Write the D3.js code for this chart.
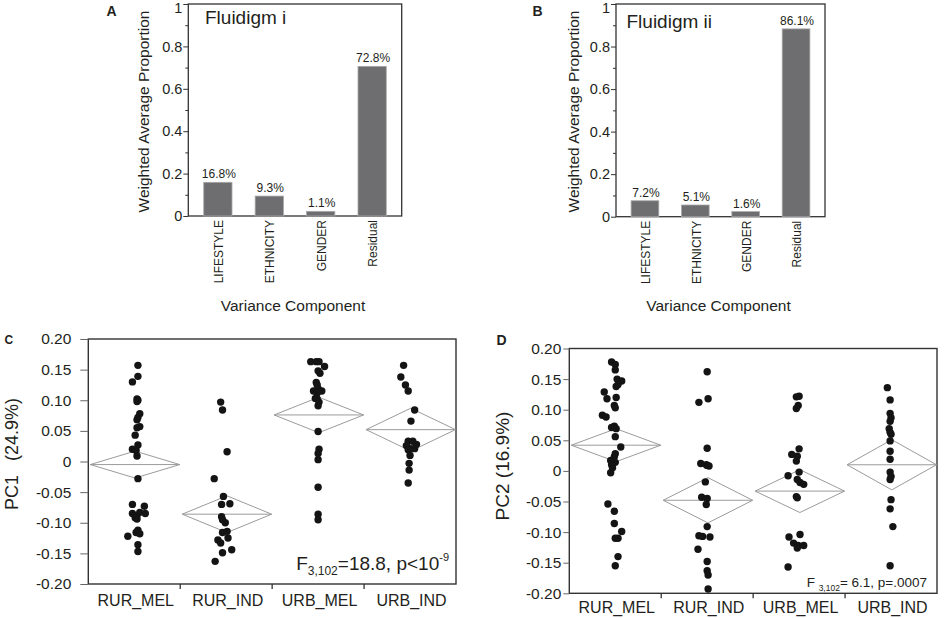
<!DOCTYPE html>
<html>
<head>
<meta charset="utf-8">
<script src="https://cdn.jsdelivr.net/npm/d3@7"></script>
<style>
  body { margin: 0; background: #fff; }
  text { font-family: "Liberation Sans", Arial, Helvetica, sans-serif; fill: #231f20; }
</style>
</head>
<body>
<svg id="fig" width="944" height="618"></svg>
<script>
// ---- data ----
var components = ["LIFESTYLE", "ETHNICITY", "GENDER", "Residual"];
var propFluidigmI = [0.159, 0.094, 0.022, 0.706];
var labelFluidigmI = ["16.8%", "9.3%", "1.1%", "72.8%"];
var propFluidigmII = [0.075, 0.055, 0.024, 0.883];
var labelFluidigmII = ["7.2%", "5.1%", "1.6%", "86.1%"];
var propTicks = [0, 0.2, 0.4, 0.6, 0.8, 1];
var propMinorTicks = [0.1, 0.3, 0.5, 0.7, 0.9];

var groups = ["RUR_MEL", "RUR_IND", "URB_MEL", "URB_IND"];
var pcTicks = [0.20, 0.15, 0.10, 0.05, 0, -0.05, -0.10, -0.15, -0.20];

// [score, jitter as fraction of group width]
var pc1RurMel = [[0.157,0.04],[0.139,0.04],[0.130,-0.02],[0.102,0.03],[0.100,0.04],[0.098,0.03],[0.078,0.06],[0.072,0.04],[0.068,0.03],[0.057,0.06],[0.055,0.03],[0.043,0.01],[0.027,0.04],[0.020,-0.02],[0.018,0.02],[0.009,0.03],[-0.028,0.04],[-0.070,-0.02],[-0.073,0.11],[-0.085,-0.02],[-0.088,0.03],[-0.083,0.06],[-0.085,0.12],[-0.092,0.01],[-0.094,0.03],[-0.112,0.04],[-0.116,0.02],[-0.118,0.06],[-0.122,-0.07],[-0.136,0.04],[-0.147,0.04]];
var pc1RurInd = [[0.097,-0.06],[0.084,-0.04],[0.016,0.01],[-0.028,-0.13],[-0.057,-0.03],[-0.070,-0.05],[-0.069,0.04],[-0.090,-0.05],[-0.095,-0.04],[-0.100,-0.01],[-0.114,0.01],[-0.116,-0.04],[-0.125,0.02],[-0.128,-0.09],[-0.133,-0.06],[-0.144,0.06],[-0.149,-0.04],[-0.163,-0.12]];
var pc1UrbMel = [[0.163,-0.08],[0.163,-0.02],[0.163,0.01],[0.155,0.07],[0.148,0.00],[0.144,0.02],[0.129,-0.02],[0.125,-0.01],[0.119,0.00],[0.115,0.04],[0.115,-0.05],[0.112,-0.01],[0.103,-0.03],[0.102,-0.01],[0.097,0.01],[0.091,0.00],[0.049,0.00],[0.020,0.01],[0.013,0.00],[0.003,0.00],[-0.042,0.00],[-0.086,0.00],[-0.095,0.00]];
var pc1UrbInd = [[0.157,-0.07],[0.138,-0.10],[0.125,-0.05],[0.115,-0.02],[0.084,0.05],[0.066,0.01],[0.033,-0.02],[0.033,0.03],[0.028,0.07],[0.026,-0.04],[0.021,0.01],[0.021,0.05],[0.019,-0.02],[0.010,0.00],[-0.003,-0.01],[-0.014,-0.01],[-0.035,-0.02]];
var pc1Means = [-0.005, -0.086, 0.076, 0.052];
var pc1Half = [0.022, 0.030, 0.029, 0.035];

var pc2RurMel = [[0.178,-0.04],[0.174,0.00],[0.165,0.00],[0.150,0.02],[0.147,0.07],[0.141,0.03],[0.138,0.01],[0.129,-0.12],[0.118,-0.09],[0.120,0.01],[0.107,-0.01],[0.103,0.00],[0.091,-0.14],[0.088,-0.10],[0.073,-0.01],[0.069,0.01],[0.071,-0.04],[0.056,0.00],[0.039,0.06],[0.028,0.00],[0.023,-0.01],[0.017,-0.05],[0.014,0.00],[0.010,-0.04],[0.005,-0.03],[-0.003,-0.05],[-0.054,-0.08],[-0.066,-0.01],[-0.086,-0.01],[-0.099,0.07],[-0.110,0.00],[-0.110,0.03],[-0.140,0.03],[-0.155,0.00]];
var pc2RurInd = [[0.162,0.00],[0.118,0.01],[0.112,-0.09],[0.037,0.00],[0.012,-0.07],[0.010,-0.01],[0.009,0.00],[0.008,0.02],[-0.018,-0.02],[-0.043,-0.06],[-0.045,0.00],[-0.055,-0.01],[-0.091,0.00],[-0.106,-0.09],[-0.107,-0.05],[-0.108,0.03],[-0.128,-0.10],[-0.148,0.00],[-0.163,0.00],[-0.170,0.01],[-0.193,0.01]];
var pc2UrbMel = [[0.121,-0.03],[0.122,0.00],[0.107,-0.01],[0.102,-0.03],[0.036,0.00],[0.027,-0.08],[0.024,-0.02],[0.016,-0.03],[-0.008,-0.12],[-0.002,0.00],[-0.014,-0.02],[-0.019,0.01],[-0.022,0.05],[-0.042,-0.03],[-0.044,-0.02],[-0.108,-0.11],[-0.104,0.01],[-0.118,-0.06],[-0.122,-0.01],[-0.122,0.05],[-0.126,-0.02],[-0.157,-0.12]];
var pc2UrbInd = [[0.136,-0.04],[0.116,-0.01],[0.094,-0.01],[0.087,0.00],[0.081,-0.01],[0.069,-0.02],[0.063,-0.01],[0.060,0.00],[0.049,-0.01],[0.032,-0.01],[0.019,-0.01],[-0.002,-0.01],[-0.009,0.00],[-0.014,-0.01],[-0.047,0.00],[-0.062,-0.01],[-0.091,0.02],[-0.155,-0.01]];
var pc2Means = [0.042, -0.048, -0.033, 0.010];
var pc2Half = [0.027, 0.037, 0.035, 0.041];

var svg = d3.select("#fig");
var axisColor = "#333";

// ---- bar panels (A, B) ----
function barPanel(o) {
    var g = svg.append("g");
    var x = d3.scaleBand().domain(components).range([o.x0, o.x1])
        .paddingInner(0.45).paddingOuter(0.3);
    var y = d3.scaleLinear().domain([0, 1]).range([o.y0, o.y1]);

    g.append("rect")
        .attr("x", o.x0).attr("y", o.y1)
        .attr("width", o.x1 - o.x0).attr("height", o.y0 - o.y1)
        .attr("fill", "none").attr("stroke", axisColor).attr("stroke-width", 1.3);

    g.selectAll(".bar").data(o.values).enter().append("rect")
        .attr("x", function(d, i) { return x(components[i]); })
        .attr("y", function(d) { return y(d); })
        .attr("width", x.bandwidth())
        .attr("height", function(d) { return o.y0 - y(d); })
        .attr("fill", "#6e6e70").attr("stroke", "#a9a9ab").attr("stroke-width", 0.8);

    g.selectAll(".lab").data(o.labels).enter().append("text")
        .attr("x", function(d, i) { return x(components[i]) + x.bandwidth() / 2 + 1; })
        .attr("y", function(d, i) { return y(o.values[i]) - 4; })
        .attr("text-anchor", "middle").style("font-size", "12px")
        .text(function(d) { return d; });

    // minor ticks first, then labelled ones
    g.append("g").attr("transform", "translate(" + o.x0 + ",0)")
        .call(d3.axisLeft(y).tickValues(propMinorTicks).tickSize(3).tickFormat(""))
        .call(function(a) { a.select(".domain").remove(); a.selectAll("line").attr("stroke", axisColor); });
    g.append("g").attr("transform", "translate(" + o.x0 + ",0)")
        .call(d3.axisLeft(y).tickValues(propTicks).tickSize(5).tickPadding(1)
            .tickFormat(function(d) { return d === 0 || d === 1 ? String(d) : d.toFixed(1); }))
        .call(function(a) {
            a.select(".domain").remove();
            a.selectAll("line").attr("stroke", axisColor);
            a.selectAll("text").style("font-size", "14.5px").attr("fill", "#231f20")
                .style("font-family", "'Liberation Sans', Arial, sans-serif")
                .filter(function(d) { return d === 1; }).attr("dy", "0.6em");
        });

    g.selectAll(".xl").data(components).enter().append("text")
        .attr("transform", function(d) {
            return "translate(" + (x(d) + x.bandwidth() / 2 + 1) + "," + (o.y0 + 4) + ") rotate(-90)";
        })
        .attr("text-anchor", "end").attr("dy", "0.35em").style("font-size", "12px")
        .text(function(d) { return d; });

    g.append("text")
        .attr("transform", "translate(" + o.yLabelX + "," + 111.5 + ") rotate(-90)")
        .attr("text-anchor", "middle").style("font-size", "15.5px")
        .text("Weighted Average Proportion");

    g.append("text").attr("x", (o.x0 + o.x1) / 2 - 2).attr("y", 311)
        .attr("text-anchor", "middle").style("font-size", "15.5px")
        .text("Variance Component");

    g.append("text").attr("x", o.titleX).attr("y", o.titleY)
        .style("font-size", "19px").text(o.title);

    g.append("text").attr("x", o.letterX).attr("y", 15.5)
        .style("font-size", "14px").style("font-weight", "bold").text(o.letter);
}

barPanel({ x0: 188.3, x1: 401.7, y0: 216, y1: 4, values: propFluidigmI, labels: labelFluidigmI,
    yLabelX: 149, title: "Fluidigm i", titleX: 205, titleY: 24, letter: "A", letterX: 106.5 });
barPanel({ x0: 616, x1: 825, y0: 216.7, y1: 4, values: propFluidigmII, labels: labelFluidigmII,
    yLabelX: 578.5, title: "Fluidigm ii", titleX: 626.5, titleY: 28, letter: "B", letterX: 532.5 });

// ---- means-diamond scatter panels (C, D) ----
function scatterPanel(o) {
    var g = svg.append("g");
    var x = d3.scaleBand().domain(groups).range([o.x0, o.x1]);
    var y = d3.scaleLinear().domain([-0.2, 0.2]).range([o.y0, o.y1]);
    var w = x.bandwidth();

    g.append("rect")
        .attr("x", o.x0).attr("y", o.y1)
        .attr("width", o.x1 - o.x0).attr("height", o.y0 - o.y1)
        .attr("fill", "none").attr("stroke", axisColor).attr("stroke-width", 1.4);

    g.append("g").attr("transform", "translate(" + o.x0 + ",0)")
        .call(d3.axisLeft(y).tickValues(pcTicks).tickSize(o.tickSize).tickPadding(o.tickPad)
            .tickFormat(function(d) { return d === 0 ? "0" : d.toFixed(2); }))
        .call(function(a) {
            a.select(".domain").remove();
            a.selectAll("line").attr("stroke", "#666");
            a.selectAll("text").style("font-size", "15.5px").attr("fill", "#231f20")
                .style("font-family", "'Liberation Sans', Arial, sans-serif");
        });

    // separators between groups on the bottom axis
    g.selectAll(".sep").data(groups.slice(1)).enter().append("line")
        .attr("x1", function(d) { return x(d); }).attr("x2", function(d) { return x(d); })
        .attr("y1", o.y0).attr("y2", o.y0 + 5)
        .attr("stroke", axisColor).attr("stroke-width", 1.3);

    g.selectAll(".xl").data(groups).enter().append("text")
        .attr("x", function(d) { return x(d) + w / 2 + 1.5; })
        .attr("y", o.xLabelY)
        .attr("text-anchor", "middle").style("font-size", "16px")
        .text(function(d) { return d; });

    // means diamonds
    groups.forEach(function(gr, i) {
        var l = x(gr) + 2, r = x(gr) + w - 0.5, c = (l + r) / 2;
        var m = o.means[i], h = o.half[i];
        g.append("path")
            .attr("d", "M" + l + "," + y(m) + "L" + c + "," + y(m + h) + "L" + r + "," + y(m) +
                "L" + c + "," + y(m - h) + "Z")
            .attr("fill", "none").attr("stroke", "#9b9b9b").attr("stroke-width", 1);
        g.append("line").attr("x1", l).attr("x2", r).attr("y1", y(m)).attr("y2", y(m))
            .attr("stroke", "#9b9b9b").attr("stroke-width", 1);
    });

    o.series.forEach(function(pts, i) {
        var cx = x(groups[i]) + w / 2;
        g.selectAll(null).data(pts).enter().append("circle")
            .attr("cx", function(d) { return cx + d[1] * w; })
            .attr("cy", function(d) { return y(d[0]); })
            .attr("r", 3.7).attr("fill", "#141414");
    });

    g.append("text").attr("x", o.letterX).attr("y", o.letterY)
        .style("font-size", o.letterSize).style("font-weight", "bold").text(o.letter);
}

scatterPanel({ x0: 88.3, x1: 456, y0: 584, y1: 339, tickSize: 8, tickPad: 9, xLabelY: 606,
    series: [pc1RurMel, pc1RurInd, pc1UrbMel, pc1UrbInd], means: pc1Means, half: pc1Half,
    letter: "C", letterX: 4.5, letterY: 343.5, letterSize: "12px" });
scatterPanel({ x0: 569.3, x1: 937, y0: 593.3, y1: 348.5, tickSize: 6, tickPad: 2, xLabelY: 613,
    series: [pc2RurMel, pc2RurInd, pc2UrbMel, pc2UrbInd], means: pc2Means, half: pc2Half,
    letter: "D", letterX: 496.5, letterY: 345, letterSize: "14px" });

// axis titles for the PC panels
var pc1Label = svg.append("text")
    .attr("transform", "translate(17.5,454) rotate(-90)")
    .attr("text-anchor", "middle").style("font-size", "18px");
pc1Label.append("tspan").text("PC1");
pc1Label.append("tspan").attr("dx", 14).text("(24.9%)");

svg.append("text")
    .attr("transform", "translate(509,466) rotate(-90)")
    .attr("text-anchor", "middle").style("font-size", "19px")
    .text("PC2 (16.9%)");

// F statistics
var fC = svg.append("text").attr("x", 449).attr("y", 569.5).attr("text-anchor", "end")
    .style("font-size", "19px");
fC.append("tspan").text("F");
fC.append("tspan").attr("dy", 5).style("font-size", "12px").text("3,102");
fC.append("tspan").attr("dy", -5).text("=18.8, p<10");
fC.append("tspan").attr("dy", -9).style("font-size", "11px").text("-9");

var fD = svg.append("text").attr("x", 927).attr("y", 587).attr("text-anchor", "end")
    .style("font-size", "13.5px");
fD.append("tspan").text("F ");
fD.append("tspan").attr("dy", 3.5).style("font-size", "8.5px").text("3,102");
fD.append("tspan").attr("dy", -3.5).text("= 6.1, p=.0007");
</script>
</body>
</html>
